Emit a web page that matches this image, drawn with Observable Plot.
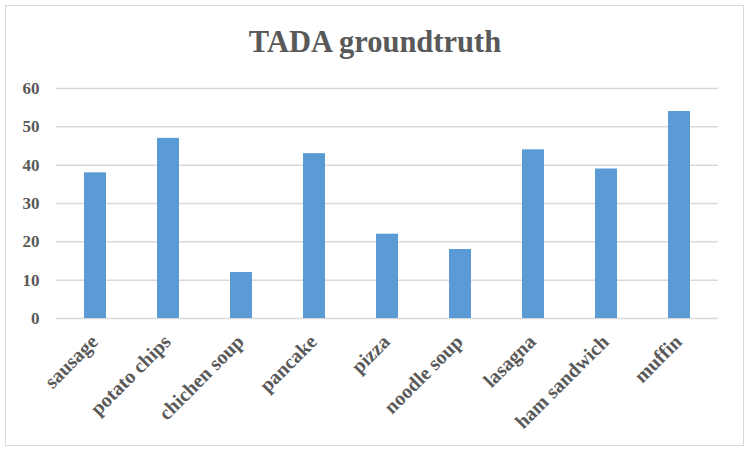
<!DOCTYPE html>
<html><head><meta charset="utf-8">
<script src="https://cdn.jsdelivr.net/npm/d3@7"></script>
<script src="https://cdn.jsdelivr.net/npm/@observablehq/plot@0.6"></script>
<style>
body{margin:0;background:#fff;}
#wrap{position:relative;width:750px;height:453px;overflow:hidden;background:#fff;}
#frame{position:absolute;left:5px;top:5px;width:737px;height:439px;border:1.5px solid #d9d9d9;}
#title{position:absolute;left:0;top:27px;width:750px;text-align:center;font-family:"Liberation Serif",serif;font-weight:bold;font-size:30.5px;line-height:30px;color:#595959;}
#chart{position:absolute;left:0;top:60px;}
</style></head>
<body>
<div id="wrap"><div id="frame"></div><div id="title">TADA groundtruth</div><div id="chart"></div></div>
<script>
const categories = ["sausage","potato chips","chichen soup","pancake","pizza","noodle soup","lasagna","ham sandwich","muffin"];
const values = [38,47,12,43,22,18,44,39,54];
const yTicks = [0,10,20,30,40,50,60];

const data = categories.map((c,i)=>({category:c, value:values[i]}));

const chart = Plot.plot({
  width: 750,
  height: 385,
  marginTop: 28,
  marginBottom: 127,
  marginLeft: 56,
  marginRight: 32,
  style: {fontFamily: "Liberation Serif, serif", fontWeight: "bold", color: "#595959", background: "transparent"},
  x: {domain: categories, paddingInner: 0.7, paddingOuter: 0.35, label: null},
  y: {domain: [0,60], ticks: yTicks, label: null},
  marks: [
    Plot.gridY(yTicks, {stroke: "#d9d9d9", strokeOpacity: 1, strokeWidth: 1.5}),
    Plot.barY(data, {x: "category", y: "value", fill: "#5b9bd5"}),
    Plot.axisY(yTicks, {tickSize: 0, tickPadding: 17, fontSize: 17, fontWeight: "bold", label: null}),
    Plot.axisX({tickRotate: -45, tickSize: 0, tickPadding: 20, dx: -1, fontSize: 20, fontWeight: "bold", label: null})
  ]
});
document.getElementById("chart").appendChild(chart);
</script>
</body></html>
